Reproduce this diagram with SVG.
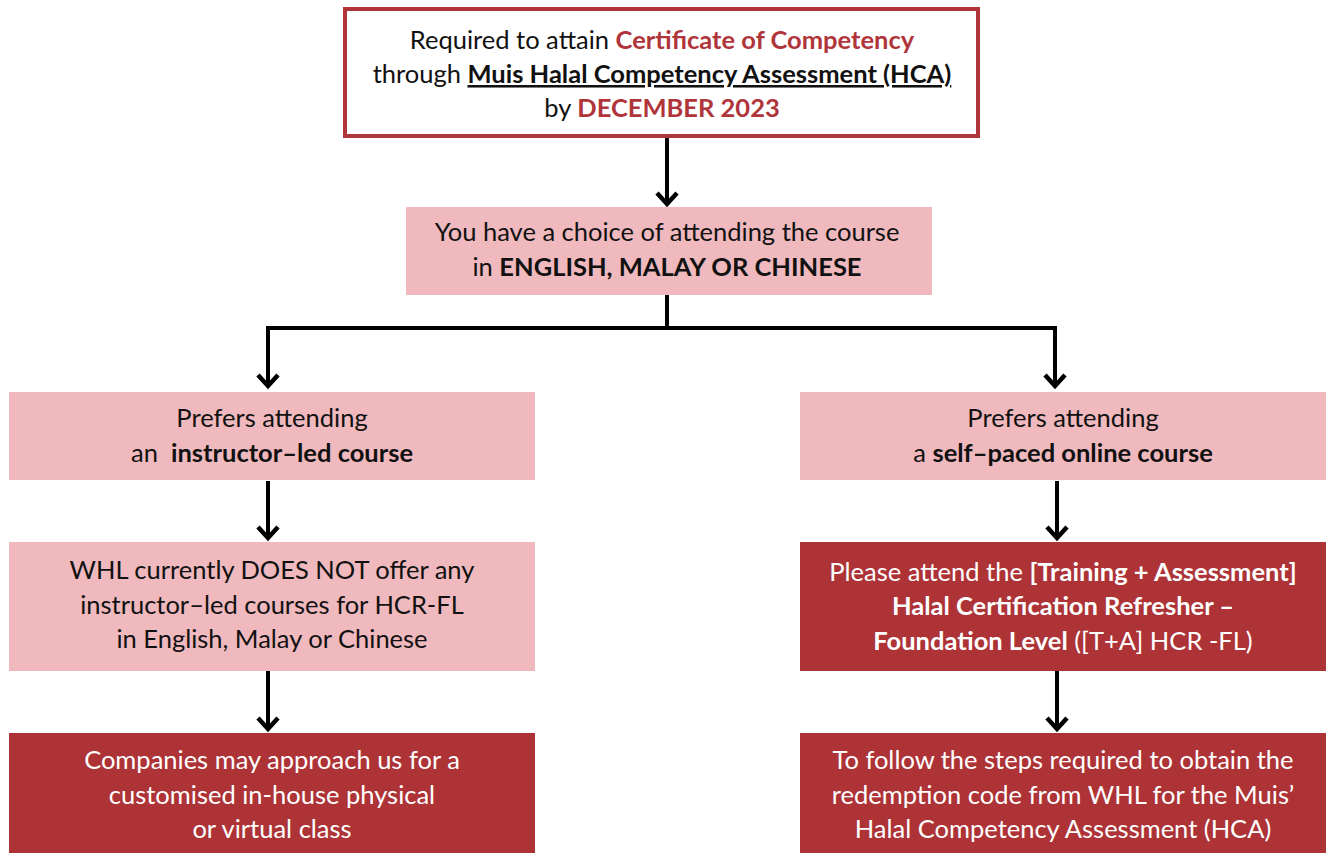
<svg xmlns="http://www.w3.org/2000/svg" width="1327" height="853" viewBox="0 0 1327 853">
<style>
.t{font-family:Lato,"Open Sans","Liberation Sans",sans-serif;font-size:25.5px;text-anchor:middle;fill:#111}
.w{fill:#fff}
.b{font-weight:bold}
.r{fill:#b0353b;font-weight:bold}
.pink{fill:#efb9be}
.dark{fill:#ad3337}
.c{stroke:#000;stroke-width:4;fill:none}
.h{stroke:#000;stroke-width:4.5;fill:none;stroke-linejoin:miter}
</style>
<rect width="1327" height="853" fill="#fff"/>
<g id="connectors">
<path class="c" d="M667 138V204"/><path class="h" d="M657 193L667 204L677 193"/>
<path class="c" d="M667 295V328M266 328H1057M268 328V386M1055 328V386"/>
<path class="h" d="M258 375L268 386L278 375"/>
<path class="h" d="M1045 375L1055 386L1065 375"/>
<path class="c" d="M268 481V538"/><path class="h" d="M258 527L268 538L278 527"/>
<path class="c" d="M1057 481V538"/><path class="h" d="M1047 527L1057 538L1067 527"/>
<path class="c" d="M268 671V729"/><path class="h" d="M258 718L268 729L278 718"/>
<path class="c" d="M1057 671V729"/><path class="h" d="M1047 718L1057 729L1067 718"/>
</g>
<g id="n1">
<rect x="345" y="9" width="633" height="127" fill="#fff" stroke="#b0353b" stroke-width="4"/>
<text class="t" x="662" y="49">Required to attain <tspan class="r">Certificate of Competency</tspan></text>
<text class="t" x="662" y="83">through <tspan class="b" text-decoration="underline">Muis Halal Competency Assessment (HCA)</tspan></text>
<text class="t" x="662" y="117">by <tspan class="r">DECEMBER 2023</tspan></text>
</g>
<g id="n2">
<rect class="pink" x="406" y="207" width="526" height="88"/>
<text class="t" x="667" y="241">You have a choice of attending the course</text>
<text class="t" x="667" y="276">in <tspan class="b">ENGLISH, MALAY OR CHINESE</tspan></text>
</g>
<g id="n3">
<rect class="pink" x="9" y="392" width="526" height="88"/>
<text class="t" x="272" y="427">Prefers attending</text>
<text class="t" x="272" y="462">an&#160; <tspan class="b">instructor–led course</tspan></text>
</g>
<g id="n4">
<rect class="pink" x="800" y="392" width="526" height="88"/>
<text class="t" x="1063" y="427">Prefers attending</text>
<text class="t" x="1063" y="462">a <tspan class="b">self–paced online course</tspan></text>
</g>
<g id="n5">
<rect class="pink" x="9" y="542" width="526" height="129"/>
<text class="t" x="272" y="579">WHL currently DOES NOT offer any</text>
<text class="t" x="272" y="614">instructor–led courses for HCR-FL</text>
<text class="t" x="272" y="648">in English, Malay or Chinese</text>
</g>
<g id="n6">
<rect class="dark" x="800" y="542" width="526" height="129"/>
<text class="t w" x="1063" y="581">Please attend the <tspan class="b">[Training + Assessment]</tspan></text>
<text class="t w b" x="1063" y="615">Halal Certification Refresher –</text>
<text class="t w" x="1063" y="650"><tspan class="b">Foundation Level</tspan> ([T+A] HCR -FL)</text>
</g>
<g id="n7">
<rect class="dark" x="9" y="733" width="526" height="120"/>
<text class="t w" x="272" y="769">Companies may approach us for a</text>
<text class="t w" x="272" y="804">customised in-house physical</text>
<text class="t w" x="272" y="838">or virtual class</text>
</g>
<g id="n8">
<rect class="dark" x="800" y="733" width="526" height="120"/>
<text class="t w" x="1063" y="769">To follow the steps required to obtain the</text>
<text class="t w" x="1063" y="804">redemption code from WHL for the Muis’</text>
<text class="t w" x="1063" y="838">Halal Competency Assessment (HCA)</text>
</g>
</svg>
